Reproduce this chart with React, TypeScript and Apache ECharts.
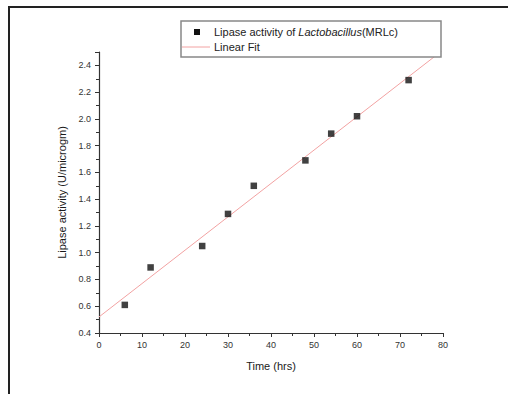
import React, { useEffect, useRef } from "react";
import * as echarts from "echarts";

// Sampling times (hrs) and measured lipase activity (U/microgm)
const timeHrs = [6, 12, 24, 30, 36, 48, 54, 60, 72];
const activity = [0.61, 0.89, 1.05, 1.29, 1.5, 1.69, 1.89, 2.02, 2.29];

// End points of the linear fit line
const fitX = [0, 80];
const fitY = [0.52, 2.515];

const legendLabels = ["Lipase activity of ", "Lactobacillus", "(MRLc)", "Linear Fit"];
const xAxisTitle = "Time (hrs)";
const yAxisTitle = "Lipase activity (U/microgm)";

const FONT = "'Liberation Sans', Arial, sans-serif";
const FIT_COLOR = "#f2a2a2";

export default function App() {
  const ref = useRef<HTMLDivElement>(null);

  useEffect(() => {
    if (!ref.current) return;
    const chart = echarts.init(ref.current, null, { renderer: "svg" });

    const scatterData = timeHrs.map((t, i) => [t, activity[i]]);
    const fitData = fitX.map((x, i) => [x, fitY[i]]);

    chart.setOption({
      animation: false,
      backgroundColor: "#fff",
      grid: { left: 99, right: 65, top: 52, bottom: 61, containLabel: false },
      xAxis: {
        type: "value",
        min: 0,
        max: 80,
        interval: 10,
        name: xAxisTitle,
        nameLocation: "middle",
        nameGap: 27,
        nameTextStyle: { fontFamily: FONT, fontSize: 11, color: "#1a1a1a" },
        axisLine: { show: true, lineStyle: { color: "#333", width: 1.2 } },
        axisTick: { show: true, inside: false, length: 4, lineStyle: { color: "#333" } },
        minorTick: { show: true, splitNumber: 2, length: 3, lineStyle: { color: "#333" } },
        axisLabel: { fontFamily: FONT, fontSize: 9, color: "#333", margin: 7 },
        splitLine: { show: false },
      },
      yAxis: {
        type: "value",
        min: 0.4,
        max: 2.5,
        interval: 0.2,
        name: yAxisTitle,
        nameLocation: "middle",
        nameGap: 30,
        nameTextStyle: { fontFamily: FONT, fontSize: 11, color: "#1a1a1a" },
        axisLine: { show: true, lineStyle: { color: "#333", width: 1.2 } },
        axisTick: { show: true, inside: false, length: 4, lineStyle: { color: "#333" } },
        minorTick: { show: true, splitNumber: 2, length: 3, lineStyle: { color: "#333" } },
        axisLabel: {
          fontFamily: FONT,
          fontSize: 9,
          color: "#333",
          margin: 8,
          showMaxLabel: false,
          formatter: (v: number) => v.toFixed(1),
        },
        splitLine: { show: false },
      },
      series: [
        {
          type: "line",
          data: fitData,
          showSymbol: false,
          symbol: "none",
          lineStyle: { color: FIT_COLOR, width: 1 },
          z: 2,
        },
        {
          type: "scatter",
          data: scatterData,
          symbol: "rect",
          symbolSize: 6.5,
          itemStyle: { color: "#111" },
          z: 3,
        },
      ],
      graphic: [
        // page frame (top and left edges)
        { type: "line", shape: { x1: 8, y1: 7, x2: 508, y2: 7 }, style: { stroke: "#222", lineWidth: 2 } },
        { type: "line", shape: { x1: 9, y1: 6, x2: 9, y2: 394 }, style: { stroke: "#222", lineWidth: 2 } },
        // legend box
        {
          type: "rect",
          shape: { x: 181, y: 21, width: 260, height: 36 },
          style: { fill: "#fff", stroke: "#888", lineWidth: 1.5 },
          z: 10,
        },
        {
          type: "rect",
          shape: { x: 194, y: 29, width: 6, height: 6 },
          style: { fill: "#111" },
          z: 11,
        },
        {
          type: "text",
          x: 214,
          y: 32,
          z: 11,
          style: {
            text: `{n|${legendLabels[0]}}{i|${legendLabels[1]}}{n|${legendLabels[2]}}`,
            verticalAlign: "middle",
            rich: {
              n: { fontFamily: FONT, fontSize: 11, fill: "#222" },
              i: { fontFamily: FONT, fontSize: 11, fontStyle: "italic", fill: "#222" },
            },
          },
        },
        {
          type: "line",
          shape: { x1: 182, y1: 47, x2: 210, y2: 47 },
          style: { stroke: FIT_COLOR, lineWidth: 1 },
          z: 11,
        },
        {
          type: "text",
          x: 214,
          y: 47,
          z: 11,
          style: {
            text: legendLabels[3],
            verticalAlign: "middle",
            fontFamily: FONT,
            fontSize: 11,
            fill: "#222",
          },
        },
      ],
    });

    return () => chart.dispose();
  }, []);

  return (
    <div
      ref={ref}
      style={{ position: "fixed", left: 0, top: 0, width: 508, height: 394 }}
    />
  );
}
